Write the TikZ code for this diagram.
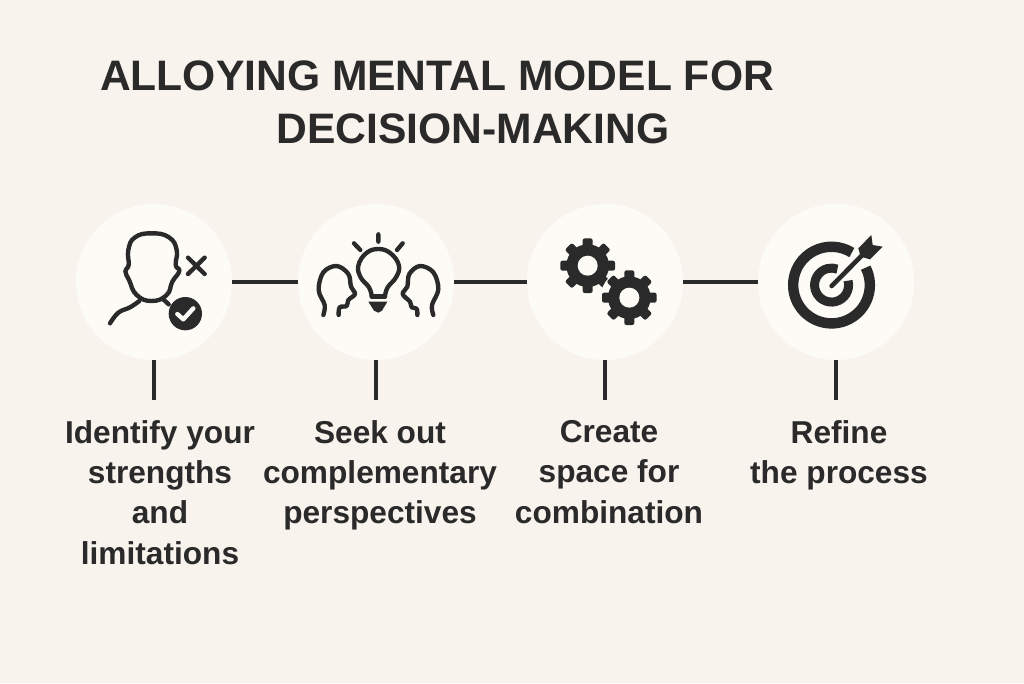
\documentclass[tikz,border=0pt]{standalone}
\usepackage{fontspec}
\setmainfont{Liberation Sans}
\definecolor{paper}{HTML}{F9F3EE}
\definecolor{disc}{HTML}{FDFBF6}
\definecolor{ink}{HTML}{2A2A2A}
\tikzset{
stepdisc/.style={circle,fill=disc,minimum size=3.9cm,inner sep=0pt,outer sep=0pt},
link/.style={draw=ink,line width=2.9pt},
steplabel/.style={align=center,text=ink,font=\fontsize{22.5}{28.7}\selectfont\bfseries,inner sep=0pt,anchor=north},
titlerow/.style={text=ink,font=\fontsize{30.3}{36}\selectfont\bfseries,inner sep=0pt},
iconline/.style={draw=ink,line width=3.1pt,line cap=round,line join=round},
zoomed/.style={x=0.008333cm,y=-0.008333cm}
}
\newcommand{\gearicon}[2]{%
\fill[ink] (#1) circle (64);
\foreach \a in {0,45,...,315} {
\fill[ink,rotate around={\a:(#1)},rounded corners=1.5pt] ($(#1)+(-15,-82)$) rectangle ($(#1)+(15,-50)$);}
\fill[disc] (#1) circle (#2);}
\usetikzlibrary{calc}
\begin{document}
\begin{tikzpicture}[x=0.025cm,y=-0.025cm]
\useasboundingbox (0,0) rectangle (1024,683);
\fill[paper] (0,0) rectangle (1024,683);
\node[titlerow] (titleA) at (437,76) {ALLOYING MENTAL MODEL FOR};
\node[titlerow] (titleB) at (473,129) {DECISION-MAKING};
\node[stepdisc] (disc1) at (154,282) {};
\node[stepdisc] (disc2) at (376,282) {};
\node[stepdisc] (disc3) at (605,282) {};
\node[stepdisc] (disc4) at (836,282) {};
\draw[link] (disc1) -- (disc2);
\draw[link] (disc2) -- (disc3);
\draw[link] (disc3) -- (disc4);
\coordinate (foot1) at (154,400);
\coordinate (foot2) at (376,400);
\coordinate (foot3) at (605,400);
\coordinate (foot4) at (836,400);
\foreach \n in {1,2,3,4} {\draw[link] (disc\n) -- (foot\n);}
\node[steplabel] (label1) at (160,420) {Identify your\\strengths\\and\\limitations};
\node[steplabel] (label2) at (380,420) {Seek out\\complementary\\perspectives};
\node[steplabel] (label3) at (609,420) {Create\\space for\\combination};
\node[steplabel] (label4) at (839,420) {Refine\\the process};
\begin{scope}[shift={(70,200)},zoomed]
\draw[iconline] plot[smooth cycle,tension=.8] coordinates {(245,100) (195,112) (175,150) (176,195) (166,213) (178,242) (200,285) (245,303) (290,285) (307,245) (328,213) (317,195) (320,150) (297,112)};
\draw[iconline] plot[smooth,tension=.7] coordinates {(208,303) (180,322) (145,338) (120,370)};
\draw[iconline] (280,298) -- (296,313);
\draw[iconline] (354,173) -- (404,222) (404,173) -- (354,222);
\fill[ink] (346,341) circle (50);
\draw[iconline,draw=disc] (322,342) -- (340,358) -- (370,325);
\draw[iconline] plot[smooth,tension=.7] coordinates {(905,288) (897,262) (872,232) (865,197) (888,160) (925,147) (962,160) (987,197) (978,232) (953,262) (945,288)};
\draw[iconline] (905,290) -- (945,290);
\fill[ink] (895,305) -- (952,305) -- (936,332) -- (925,338) -- (912,332) -- cycle;
\draw[iconline] (925,103) -- (925,125) (852,130) -- (871,150) (998,130) -- (981,150);
\draw[iconline] plot[smooth,tension=.6] coordinates {(760,345) (764,315) (746,270) (760,217) (800,198) (835,222) (843,260) (855,282) (835,300) (830,318) (809,322) (806,345)};
\draw[iconline] plot[smooth,tension=.6] coordinates {(1090,345) (1086,315) (1105,268) (1090,217) (1050,198) (1018,222) (1012,260) (998,282) (1020,305) (1025,322) (1040,326) (1042,345)};
\end{scope}
\begin{scope}[shift={(520,200)},zoomed]
\gearicon{203,197}{30}
\fill[disc] (328,293) circle (86);
\gearicon{328,293}{30}
\draw[ink,line width=7.4pt] (1037,203) arc (-27:302:115);
\draw[ink,line width=6.4pt] (984,242) arc (-15:290:51);
\draw[disc,line width=6.5pt] (935,258) -- (1030,162);
\draw[ink,line width=3.3pt,line cap=round] (935,258) -- (1030,162);
\fill[ink] (1015,145) -- (1054,105) -- (1058,135) -- (1088,140) -- (1050,178) -- (1022,170) -- cycle;
\end{scope}
\end{tikzpicture}
\end{document}
